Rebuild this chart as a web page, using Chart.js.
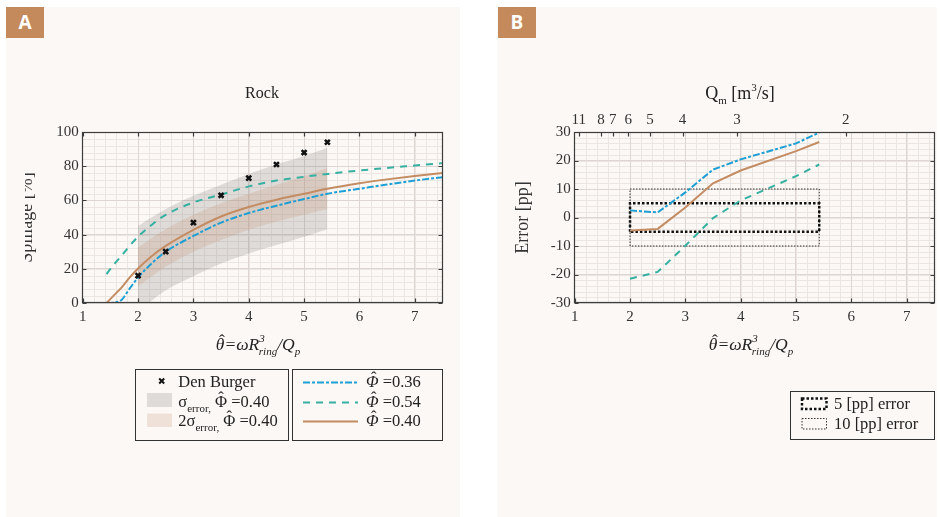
<!DOCTYPE html>
<html>
<head>
<meta charset="utf-8">
<title>Rock spillage</title>
<script src="https://cdn.jsdelivr.net/npm/chart.js@4.4.1/dist/chart.umd.min.js"></script>
<style>
  html, body { margin: 0; padding: 0; background: #fff; }
  body { position: relative; width: 940px; height: 517px; overflow: hidden;
         font-family: "Liberation Serif", "DejaVu Serif", serif; color: #222; }
  .panel { position: absolute; background: #fcf8f5; }
  .badge { position: absolute; width: 38px; height: 31px; background: #c48a5c; color: #fff;
           font: bold 19px "Open Sans", "DejaVu Sans", sans-serif; line-height: 31px; text-align: center; }
  .txt { position: absolute; white-space: nowrap; }
  .lg { font-size: 16.5px; line-height: 16.5px; }
  .sub, .sup { position: relative; font-size: 11px; line-height: 0; }
  .sub { top: 5px; }
  .sup { top: -8px; }
  .xt { font-size: 17.5px; line-height: 17.5px; font-style: italic; transform: translateX(-50%); }
  .hat { position: relative; display: inline-block; line-height: 1em; }
  .hat b { position: absolute; left: 0; right: 0; text-align: center; top: -0.22em; line-height: 1em;
           font-weight: normal; font-style: normal; }
  .hat.it b { left: 0.18em; }
  .clip { position: absolute; overflow: hidden; }
  canvas { position: absolute; }
</style>
</head>
<body>
<div class="panel" style="left:6px;top:7px;width:454px;height:510px"></div>
<div class="panel" style="left:497px;top:7px;width:440px;height:510px"></div>
<div class="badge" style="left:6px;top:7px">A</div>
<div class="badge" style="left:498px;top:7px">B</div>

<div class="clip" style="left:25px;top:7px;width:435px;height:330px">
  <canvas id="chartA" width="454" height="330" style="left:-19px;top:0"></canvas>
</div>
<canvas id="chartB" width="440" height="330" style="left:497px;top:7px"></canvas>

<!-- titles -->
<div class="txt" style="left:262px;top:84.9px;font-size:16px;line-height:16px;transform:translateX(-50%)">Rock</div>
<div class="txt" style="left:740px;top:84.4px;font-size:18px;line-height:18px;transform:translateX(-50%)">Q<span class="sub">m</span> [m<span class="sup">3</span>/s]</div>
<div class="txt xt" style="left:258px;top:336px"><span class="hat it">θ<b>ˆ</b></span>=ωR<span class="sup">3</span><span class="sub" style="margin-left:-6px">ring</span>/Q<span class="sub">p</span></div>
<div class="txt xt" style="left:751px;top:336px"><span class="hat it">θ<b>ˆ</b></span>=ωR<span class="sup">3</span><span class="sub" style="margin-left:-6px">ring</span>/Q<span class="sub">p</span></div>

<!-- legend samples -->
<svg style="position:absolute;left:0;top:0" width="940" height="517">
  <rect x="135.5" y="369.5" width="153" height="71" fill="none" stroke="#333" stroke-width="1"/>
  <rect x="292.5" y="369.5" width="150" height="71" fill="none" stroke="#333" stroke-width="1"/>
  <rect x="790.5" y="391.5" width="144" height="48" fill="none" stroke="#333" stroke-width="1"/>
  <path d="M159.2 378.5 L164.2 383.5 M159.2 383.5 L164.2 378.5" stroke="#111" stroke-width="2"/>
  <rect x="147" y="393" width="25" height="14" fill="#dedbd9"/>
  <rect x="147" y="413.5" width="25" height="13.5" fill="#efe1d7"/>
  <line x1="303" y1="382.5" x2="358" y2="382.5" stroke="#1d9fd4" stroke-width="2" stroke-dasharray="7 2 3 2"/>
  <line x1="303" y1="402.5" x2="358" y2="402.5" stroke="#35b0a1" stroke-width="2" stroke-dasharray="7 6"/>
  <line x1="303" y1="421.5" x2="358" y2="421.5" stroke="#c38c63" stroke-width="2"/>
  <rect x="802" y="398.5" width="24.5" height="10.5" fill="none" stroke="#111" stroke-width="2.5" stroke-dasharray="2.5 2"/>
  <rect x="802" y="418.5" width="24.5" height="10.5" fill="none" stroke="#333" stroke-width="1" stroke-dasharray="1.5 1.5"/>
</svg>
<div class="txt lg" style="left:178.3px;top:373.9px">Den Burger</div>
<div class="txt lg" style="left:178.3px;top:393.9px">σ<span class="sub">error,</span> <span class="hat">Φ<b>ˆ</b></span> =0.40</div>
<div class="txt lg" style="left:178.3px;top:412.9px">2σ<span class="sub">error,</span> <span class="hat">Φ<b>ˆ</b></span> =0.40</div>
<div class="txt lg" style="left:366px;top:373.9px"><i class="hat it">Φ<b>ˆ</b></i> =0.36</div>
<div class="txt lg" style="left:366px;top:393.9px"><i class="hat it">Φ<b>ˆ</b></i> =0.54</div>
<div class="txt lg" style="left:366px;top:412.9px"><i class="hat it">Φ<b>ˆ</b></i> =0.40</div>
<div class="txt lg" style="left:834px;top:395.5px">5 [pp] error</div>
<div class="txt lg" style="left:834px;top:415.5px">10 [pp] error</div>

<script>
// Panel A: spillage for rock, model curves vs Den Burger measurements
const thetaModel = [1.43, 1.55, 1.7, 1.85, 2, 2.25, 2.5, 3, 3.5, 4, 4.5, 5, 5.42, 6, 6.5, 7, 7.5];
const spillPhi36 = [0, 0.2, 1.8, 8.5, 14.9, 23.3, 30, 39.2, 47, 52.6, 56.9, 60.8, 63.9, 66.8, 69.3, 71.6, 73.6];
const spillPhi54 = [16.9, 22, 27.6, 33.5, 38.8, 45.8, 51.6, 58.8, 63.4, 68.2, 71.6, 73.8, 75.5, 77.5, 79, 80.4, 81.8];
const spillPhi40 = [0, 4, 9, 15, 20.2, 27.5, 33.4, 42.8, 50.6, 56.1, 60.4, 63.9, 66.8, 70, 72.3, 74.3, 76];

const thetaBand = [2, 2.5, 3, 3.5, 4, 4.5, 5, 5.42];
const greyBandHi = [45.1, 54.9, 62.7, 69.2, 75.5, 81, 85.9, 90.8];
const greyBandLo = [-5, 7.5, 15.7, 23.1, 29, 33.9, 38.8, 43.2];
const brownBandHi = [32.6, 43.2, 51.6, 58.4, 63.9, 69.2, 74.1, 79];
const brownBandLo = [9.8, 21.2, 30, 36.9, 42.8, 47.6, 51.6, 54.9];

const thetaDenBurger = [2, 2.5, 3, 3.5, 4, 4.5, 5, 5.42];
const spillDenBurger = [16, 30, 47, 63, 73, 81, 88, 94];

// Panel B: error in percentage points
const thetaErr = [2, 2.5, 3, 3.5, 4, 5, 5.42];
const errPhi36 = [2.5, 1.8, 8.8, 16.8, 20.4, 26, 29.8];
const errPhi54 = [-21.5, -19.1, -9.9, -0.2, 6, 14.5, 18.6];
const errPhi40 = [-4.6, -4.0, 3.5, 12, 16.5, 23.3, 26.5];
const boxTheta = [2, 5.42];
const box5 = 5;
const box10 = 10;

// top axis of B: Qm ticks, theta = THETA_QM / Qm
const qmTicks = [11, 8, 7, 6, 5, 4, 3, 2];
const THETA_QM = 11.8;

const BLUE = '#1d9fd4', TEAL = '#35b0a1', BROWN = '#c38c63';

Chart.defaults.font.family = '"Liberation Serif", "DejaVu Serif", serif';
Chart.defaults.color = '#333';

const pts = (xs, ys) => xs.map((x, i) => ({ x: x, y: ys[i] }));
const boxPts = h => pts([boxTheta[0], boxTheta[0], boxTheta[1], boxTheta[1], boxTheta[0]], [-h, h, h, -h, -h]);

// minor grid under the major grid, frame + inward ticks over the data
const frameGrid = {
    id: 'frameGrid',
    beforeDraw(chart, args, opts) {
        const { ctx, chartArea: a, scales: { x, y } } = chart;
        ctx.save();
        ctx.strokeStyle = '#ece6e2';
        ctx.lineWidth = 1;
        ctx.beginPath();
        const nx = Math.round((x.max - x.min) / opts.minorX);
        for (let i = 1; i < nx; i++) {
            const p = Math.round(x.getPixelForValue(x.min + i * opts.minorX)) + 0.5;
            ctx.moveTo(p, a.top); ctx.lineTo(p, a.bottom);
        }
        const ny = Math.round((y.max - y.min) / opts.minorY);
        for (let i = 1; i < ny; i++) {
            const p = Math.round(y.getPixelForValue(y.min + i * opts.minorY)) + 0.5;
            ctx.moveTo(a.left, p); ctx.lineTo(a.right, p);
        }
        ctx.stroke();
        ctx.restore();
    },
    afterDatasetsDraw(chart, args, opts) {
        const { ctx, chartArea: a, scales } = chart;
        const x = scales.x, y = scales.y, top = scales[opts.topScale || 'x'];
        const len = 4;
        const l = Math.floor(a.left) + 0.5, r = Math.ceil(a.right) - 0.5;
        const t = Math.floor(a.top) + 0.5, b = Math.ceil(a.bottom) - 0.5;
        ctx.save();
        ctx.strokeStyle = '#3d3d3d';
        ctx.lineWidth = 1.2;
        ctx.strokeRect(l, t, r - l, b - t);
        ctx.beginPath();
        x.ticks.forEach(tk => {
            const p = Math.round(x.getPixelForValue(tk.value)) + 0.5;
            ctx.moveTo(p, b); ctx.lineTo(p, b - len);
        });
        top.ticks.forEach(tk => {
            const p = Math.round(top.getPixelForValue(tk.value)) + 0.5;
            ctx.moveTo(p, t); ctx.lineTo(p, t + len);
        });
        y.ticks.forEach(tk => {
            const p = Math.round(y.getPixelForValue(tk.value)) + 0.5;
            ctx.moveTo(l, p); ctx.lineTo(l + len, p);
            ctx.moveTo(r, p); ctx.lineTo(r - len, p);
        });
        ctx.stroke();
        ctx.restore();
    }
};

const tickFont = { size: 15 };

function xScale() {
    return {
        type: 'linear', position: 'bottom', min: 1, max: 7.5,
        ticks: { stepSize: 1, includeBounds: false, padding: 5, font: tickFont, maxRotation: 0 },
        grid: { color: '#dcd5d1', drawTicks: false },
        border: { display: false },
        afterFit: s => { s.height = 28; }
    };
}

function yScale(min, max, step, title, width) {
    return {
        type: 'linear', min: min, max: max,
        ticks: { stepSize: step, padding: 4, font: tickFont },
        grid: { color: '#dcd5d1', drawTicks: false },
        border: { display: false },
        title: { display: true, text: title, font: { size: 18 }, padding: 0, color: '#333' },
        afterFit: s => { s.width = width; }
    };
}

function curve(xs, ys, color, dash, extra) {
    return Object.assign({
        data: pts(xs, ys), xAxisID: 'x', showLine: true, borderColor: color, borderWidth: 2,
        borderDash: dash, pointRadius: 0, fill: false, tension: 0
    }, extra || {});
}

const smooth = { cubicInterpolationMode: 'monotone', tension: 0.4 };
const band = (xs, ys, order, color) => curve(xs, ys, 'rgba(0,0,0,0)', [], Object.assign({
    borderWidth: 0, order: order, fill: color ? '+1' : false, backgroundColor: color || 'rgba(0,0,0,0)'
}, smooth));

new Chart(document.getElementById('chartA'), {
    type: 'scatter',
    data: {
        datasets: [
            { data: pts(thetaDenBurger, spillDenBurger), xAxisID: 'x', pointStyle: 'crossRot', pointRadius: 3.5,
              borderColor: '#111', borderWidth: 2.5, showLine: false, order: 0 },
            curve(thetaModel, spillPhi36, BLUE, [7, 2, 3, 2], Object.assign({ order: 1 }, smooth)),
            curve(thetaModel, spillPhi54, TEAL, [7, 6], Object.assign({ order: 1 }, smooth)),
            curve(thetaModel, spillPhi40, BROWN, [], Object.assign({ order: 1 }, smooth)),
            band(thetaBand, greyBandHi, 3, 'rgba(132,132,133,0.25)'),
            band(thetaBand, greyBandLo, 3),
            band(thetaBand, brownBandHi, 2, 'rgba(200,156,125,0.27)'),
            band(thetaBand, brownBandLo, 2)
        ]
    },
    options: {
        responsive: false, animation: false,
        layout: { padding: { left: 10.5, right: 17.5, top: 125, bottom: 6 } },
        plugins: { legend: { display: false }, tooltip: { enabled: false }, frameGrid: { minorX: 0.2, minorY: 4 } },
        scales: { x: xScale(), y: yScale(0, 100, 20, 'Spillage [%]', 66.2) }
    },
    plugins: [frameGrid]
});

const xTop = {
    type: 'linear', position: 'top', min: 1, max: 7.5,
    afterBuildTicks: s => { s.ticks = qmTicks.map(q => ({ value: THETA_QM / q })); },
    ticks: { callback: (v, i) => qmTicks[i], autoSkip: false, maxRotation: 0, padding: 3, font: tickFont },
    grid: { display: false, drawTicks: false },
    border: { display: false },
    afterFit: s => { s.height = 30; }
};

new Chart(document.getElementById('chartB'), {
    type: 'scatter',
    data: {
        datasets: [
            curve(thetaErr, errPhi36, BLUE, [7, 2, 3, 2]),
            curve(thetaErr, errPhi54, TEAL, [7, 6]),
            curve(thetaErr, errPhi40, BROWN, []),
            { data: boxPts(box5), xAxisID: 'x', showLine: true, borderColor: '#111', borderWidth: 2.5,
              borderDash: [2.5, 2], pointRadius: 0, fill: false, tension: 0 },
            { data: boxPts(box10), xAxisID: 'x', showLine: true, borderColor: '#333', borderWidth: 1,
              borderDash: [1.5, 1.5], pointRadius: 0, fill: false, tension: 0 }
        ]
    },
    options: {
        responsive: false, animation: false,
        layout: { padding: { left: 15.2, right: 2.7, top: 95, bottom: 6 } },
        plugins: { legend: { display: false }, tooltip: { enabled: false },
                   frameGrid: { minorX: 0.2, minorY: 2, topScale: 'xTop' } },
        scales: { x: xScale(), xTop: xTop, y: yScale(-30, 30, 10, 'Error [pp]', 62.5) }
    },
    plugins: [frameGrid]
});
</script>
</body>
</html>
